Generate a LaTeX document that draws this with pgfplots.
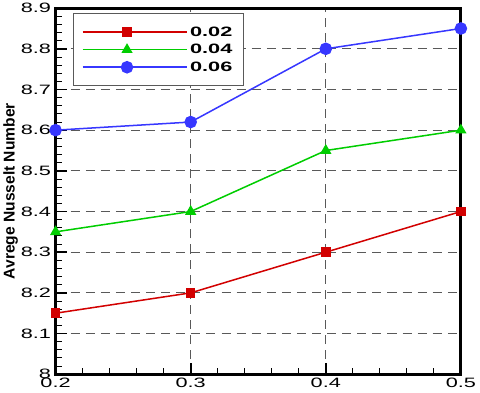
\documentclass[border=0pt]{standalone}
\usepackage{fontspec}
\setmainfont{Liberation Sans}
\usepackage{graphicx}
\usepackage{pgfplots}
\pgfplotsset{compat=1.18}
\definecolor{cred}{RGB}{210,0,0}
\definecolor{cgreen}{RGB}{0,205,0}
\definecolor{cblue}{RGB}{55,55,255}
\newcommand{\wide}[1]{\scalebox{1.6}[1]{#1}}
\begin{document}
\begin{tikzpicture}
\begin{axis}[scale only axis, width=403pt, height=364pt,
  xmin=0.2, xmax=0.5, ymin=8, ymax=8.9,
  xtick={0.2,0.3,0.4,0.5}, ytick={8,8.1,...,8.9},
  minor x tick num=4, minor y tick num=4,
  xtick pos=bottom, ytick pos=left, tick align=inside,
  major tick length=11pt, minor tick length=6pt,
  every major tick/.style={black, line width=1.8pt},
  every minor tick/.style={black, line width=0.9pt},
  axis line style={line width=3pt},
  grid=major, major grid style={gray!70!black, dash pattern=on 9pt off 6pt, line width=0.9pt},
  /pgf/number format/assume math mode=true,
  tick label style={font=\fontsize{13.5}{15}\selectfont},
  xticklabel={\wide{\pgfmathprintnumber{\tick}}},
  yticklabel={\wide{\pgfmathprintnumber{\tick}}},
  xticklabel style={inner sep=4pt},
  yticklabel style={xshift=-1pt},
  ylabel={\bfseries Avrege Nusselt Number},
  ylabel style={font=\fontsize{15.5}{17}\selectfont, yshift=-4pt},
  legend style={at={(0.042,0.986)}, anchor=north west, draw=gray!70!black, line width=0.7pt,
    font=\bfseries\fontsize{13.5}{15}\selectfont, row sep=2.5pt, inner xsep=9pt, inner ysep=11pt},
  legend cell align=left,
  legend image code/.code={\draw[mark repeat=2, mark phase=2] plot coordinates {(0pt,0pt)(44pt,0pt)(88pt,0pt)}; \path (0pt,0pt) -- (104pt,0pt);},
  ]
\addplot[cred, line width=1.5pt, mark=square*, mark size=4pt] coordinates {(0.2,8.15)(0.3,8.2)(0.4,8.3)(0.5,8.4)};
\addlegendentry{\wide{0.02}}
\addplot[cgreen, line width=1.5pt, mark=triangle*, mark size=5pt] coordinates {(0.2,8.35)(0.3,8.4)(0.4,8.55)(0.5,8.6)};
\addlegendentry{\wide{0.04}}
\addplot[cblue, line width=1.5pt, mark=*, mark size=5.5pt] coordinates {(0.2,8.6)(0.3,8.62)(0.4,8.8)(0.5,8.85)};
\addlegendentry{\wide{0.06}}
\end{axis}
\end{tikzpicture}
\end{document}
